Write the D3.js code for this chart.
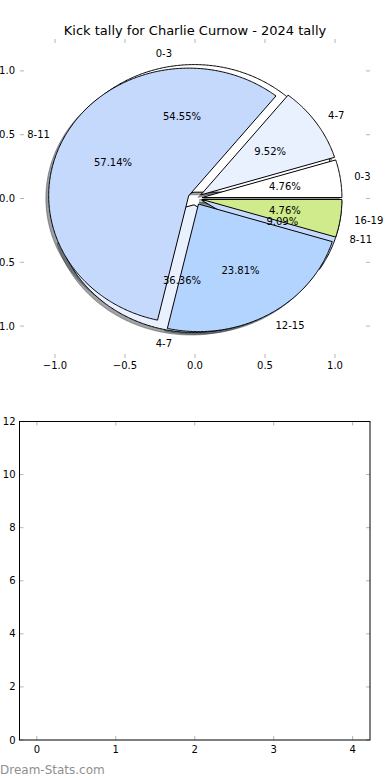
<!DOCTYPE html>
<html>
<head>
<meta charset="utf-8">
<script src="https://cdn.jsdelivr.net/npm/d3@7"></script>
<style>
  html, body { margin: 0; padding: 0; background: #fff; }
  svg { display: block; font-family: "DejaVu Sans", sans-serif; }
</style>
</head>
<body>
<svg id="chart" width="390" height="780"></svg>
<script>
// ---------------- DATA ----------------
const title = "Kick tally for Charlie Curnow - 2024 tally";
// first (back) pie
const categories1 = ["0-3", "4-7", "8-11"];
const values1 = [6, 4, 1];
// second (front) pie
const categories2 = ["0-3", "4-7", "8-11", "12-15", "16-19"];
const values2 = [1, 2, 12, 5, 1];
const categoryColors = ["#ffffff", "#e9f1fe", "#c5d9fd", "#b3d4fe", "#cfeb8b"];
const allCategories = ["0-3", "4-7", "8-11", "12-15", "16-19"];
const pieTicks = [-1.0, -0.5, 0.0, 0.5, 1.0];
const barXTicks = [0, 1, 2, 3, 4];
const barYTicks = [0, 2, 4, 6, 8, 10, 12];
const watermark = "Dream-Stats.com";

// ---------------- LAYOUT ----------------
const svg = d3.select("#chart");
const tickColor = "#b5b5b5";
const explode = 0.05, labelDist = 1.1, pctDist = 0.6;

const color = d3.scaleOrdinal().domain(allCategories).range(categoryColors);

// pie axes
const px = d3.scaleLinear().domain([-1.25, 1.25]).range([20, 370]);
const py = d3.scaleLinear().domain([-1.25, 1.25]).range([358, 39]);

// title
svg.append("text").attr("x", 195).attr("y", 30)
  .attr("text-anchor", "middle").attr("dominant-baseline", "central")
  .attr("font-size", 13).attr("fill", "#000").text(title);

// ticks for pie axes (no spines)
const pieG = svg.append("g");
pieTicks.forEach(t => {
  pieG.append("line").attr("x1", px(t)).attr("x2", px(t)).attr("y1", py.range()[1]).attr("y2", py.range()[1] + 4)
    .attr("stroke", tickColor).attr("stroke-width", 1);
  pieG.append("line").attr("x1", px(t)).attr("x2", px(t)).attr("y1", py.range()[0]).attr("y2", py.range()[0] - 4)
    .attr("stroke", tickColor).attr("stroke-width", 1);
  pieG.append("line").attr("x1", px.range()[0]).attr("x2", px.range()[0] + 4).attr("y1", py(t)).attr("y2", py(t))
    .attr("stroke", tickColor).attr("stroke-width", 1);
  pieG.append("line").attr("x1", px.range()[1]).attr("x2", px.range()[1] - 4).attr("y1", py(t)).attr("y2", py(t))
    .attr("stroke", tickColor).attr("stroke-width", 1);
});
const fmtTick = d3.format(".1f");
pieTicks.forEach(t => {
  pieG.append("text").attr("x", px(t)).attr("y", py.range()[0] + 7)
    .attr("text-anchor", "middle").attr("dominant-baseline", "central")
    .attr("font-size", 10).text(fmtTick(t).replace("-", "\u2212"));
  pieG.append("text").attr("x", px.range()[0] - 5).attr("y", py(t))
    .attr("text-anchor", "end").attr("dominant-baseline", "central")
    .attr("font-size", 10).text(fmtTick(t).replace("-", "\u2212"));
});

// pie geometry via d3.pie (angles interpreted CCW from 3 o'clock in data coords)
const pieGen = d3.pie().sort(null).value(d => d.v).startAngle(0).endAngle(2 * Math.PI);
const data1 = pieGen(categories1.map((c, i) => ({ c, v: values1[i] })));
const data2 = pieGen(categories2.map((c, i) => ({ c, v: values2[i] })));
const total1 = d3.sum(values1), total2 = d3.sum(values2);

const line = d3.line().x(d => px(d[0])).y(d => py(d[1]));
function wedgePts(d, dx, dy) {
  const m = (d.startAngle + d.endAngle) / 2;
  const cx = explode * Math.cos(m) + dx, cy = explode * Math.sin(m) + dy;
  const n = Math.max(8, Math.ceil((d.endAngle - d.startAngle) / 0.01));
  const pts = [[cx, cy]];
  for (let i = 0; i <= n; i++) {
    const a = d.startAngle + (d.endAngle - d.startAngle) * i / n;
    pts.push([cx + Math.cos(a), cy + Math.sin(a)]);
  }
  return pts;
}
function shade(c) {
  const r = d3.rgb(c);
  return d3.rgb(r.r * 0.3, r.g * 0.3, r.b * 0.3).formatHex();
}

const shadowG = svg.append("g");
const wedgeG = svg.append("g");
const textG = svg.append("g");

[data1, data2].forEach(ds => {
  ds.forEach(d => {
    shadowG.append("path").attr("d", line(wedgePts(d, -0.02, -0.02)) + "Z")
      .attr("fill", shade(color(d.data.c))).attr("fill-opacity", 0.5)
      .attr("stroke", shade(color(d.data.c))).attr("stroke-opacity", 0.5).attr("stroke-width", 1);
  });
});
[data1, data2].forEach(ds => {
  ds.forEach(d => {
    wedgeG.append("path").attr("d", line(wedgePts(d, 0, 0)) + "Z")
      .attr("fill", color(d.data.c)).attr("stroke", "#000").attr("stroke-width", 1)
      .attr("stroke-linejoin", "miter");
  });
});
const fmtPct = d3.format(".2f");
[[data1, total1], [data2, total2]].forEach(([ds, tot]) => {
  ds.forEach(d => {
    const m = (d.startAngle + d.endAngle) / 2;
    const cx = explode * Math.cos(m), cy = explode * Math.sin(m);
    const lx = cx + labelDist * Math.cos(m), ly = cy + labelDist * Math.sin(m);
    textG.append("text").attr("x", px(lx)).attr("y", py(ly))
      .attr("text-anchor", lx > 0 ? "start" : "end").attr("dominant-baseline", "central")
      .attr("font-size", 10).text(d.data.c);
    const tx = cx + pctDist * Math.cos(m), ty = cy + pctDist * Math.sin(m);
    textG.append("text").attr("x", px(tx)).attr("y", py(ty))
      .attr("text-anchor", "middle").attr("dominant-baseline", "central")
      .attr("font-size", 10).text(fmtPct(d.data.v / tot * 100) + "%");
  });
});

// ---------------- bottom (empty) axes ----------------
const bx = d3.scaleLinear().domain([-0.22, 4.22]).range([19.5, 370]);
const by = d3.scaleLinear().domain([0, 12]).range([740, 421.5]);
const bg = svg.append("g");
barXTicks.forEach(t => {
  bg.append("line").attr("x1", bx(t)).attr("x2", bx(t)).attr("y1", by.range()[0]).attr("y2", by.range()[0] - 4)
    .attr("stroke", tickColor);
  bg.append("line").attr("x1", bx(t)).attr("x2", bx(t)).attr("y1", by.range()[1]).attr("y2", by.range()[1] + 4)
    .attr("stroke", tickColor);
  bg.append("text").attr("x", bx(t)).attr("y", by.range()[0] + 9)
    .attr("text-anchor", "middle").attr("dominant-baseline", "central")
    .attr("font-size", 10).text(t);
});
barYTicks.forEach(t => {
  bg.append("line").attr("x1", bx.range()[0]).attr("x2", bx.range()[0] + 4).attr("y1", by(t)).attr("y2", by(t))
    .attr("stroke", tickColor);
  bg.append("line").attr("x1", bx.range()[1]).attr("x2", bx.range()[1] - 4).attr("y1", by(t)).attr("y2", by(t))
    .attr("stroke", tickColor);
  bg.append("text").attr("x", bx.range()[0] - 4).attr("y", by(t))
    .attr("text-anchor", "end").attr("dominant-baseline", "central")
    .attr("font-size", 10).text(t);
});
bg.append("rect").attr("x", bx.range()[0]).attr("y", by.range()[1])
  .attr("width", bx.range()[1] - bx.range()[0]).attr("height", by.range()[0] - by.range()[1])
  .attr("fill", "none").attr("stroke", "#000").attr("stroke-width", 1);

// watermark
svg.append("text").attr("x", 0).attr("y", 770).attr("dominant-baseline", "central")
  .attr("font-size", 12).attr("fill", "#8f8f8f").text(watermark);
</script>
</body>
</html>
